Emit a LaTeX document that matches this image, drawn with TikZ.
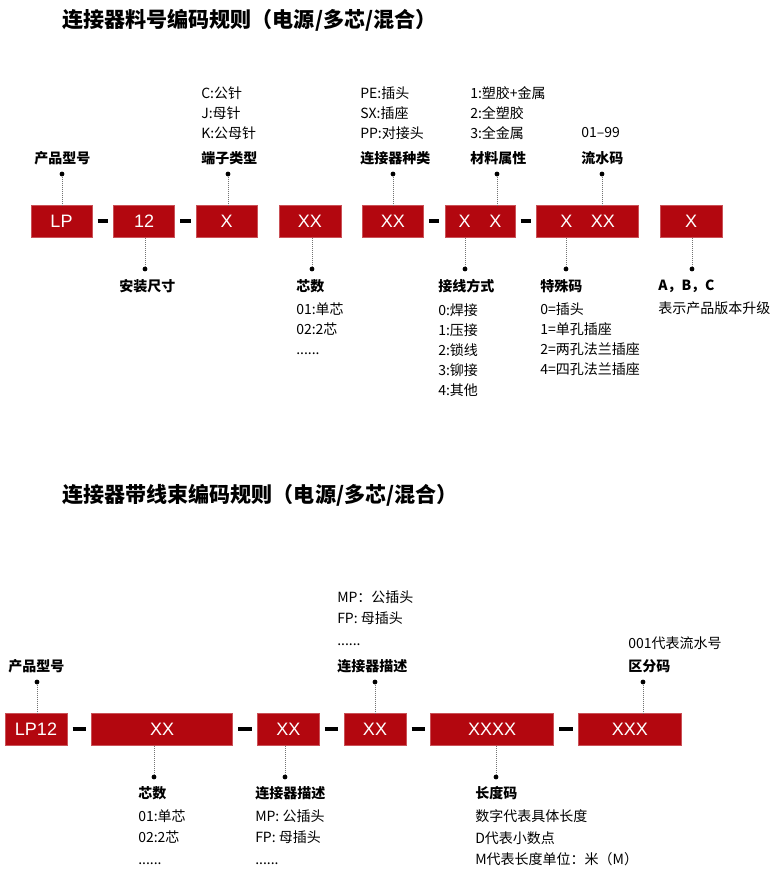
\documentclass[tikz,border=0pt]{standalone}
\usepackage{fontspec}
\setmainfont{Noto Sans CJK SC}
\newfontfamily\boxfont{Liberation Sans}
\usepackage{tikz}
\usetikzlibrary{positioning, calc}
\definecolor{CodeRed}{HTML}{B3070F}

\tikzset{
  codebox/.style={fill=CodeRed, draw=CodeRed!70!white, line width=0.4pt, text=white,
    minimum height=24pt, inner sep=0pt, font=\boxfont\fontsize{13.5}{15}\selectfont},
  hyphen/.style={line width=2.3pt, shorten <=4pt, shorten >=4pt},
  pin/.style={circle, fill=black, inner sep=0pt, minimum size=3.6pt},
  lead/.style={densely dotted, black!55, line width=0.5pt},
  title/.style={anchor=west, inner sep=0pt, font=\fontsize{15.8}{18}\selectfont\bfseries},
  head/.style={anchor=west, inner sep=0pt, font=\fontsize{10.5}{12}\selectfont\bfseries},
  note/.style={anchor=west, inner sep=0pt, align=left, font=\fontsize{10.5}{15}\selectfont},
  notewide/.style={note, font=\fontsize{10.5}{16.2}\selectfont}
}

\begin{document}
\begin{tikzpicture}[x=0.75pt, y=-0.75pt]
\useasboundingbox (0,0) rectangle (780,872);

% --- Part 1: connector part number ---
\node[title] (title1) at (62,20) {连接器料号编码规则（电源/多芯/混合）};

% code boxes
\node[codebox, minimum width=45.75pt] (lp) at (61.5,221) {LP};
\node[codebox, minimum width=45.75pt, right=15.8pt of lp] (size) {12};
\node[codebox, minimum width=45.75pt, right=15.8pt of size] (term) {X};
\node[codebox, minimum width=46.5pt, right=15.8pt of term] (cores) {XX};
\node[codebox, minimum width=45.75pt, right=15.8pt of cores] (kind) {XX};
\node[codebox, minimum width=52.5pt, right=15.8pt of kind] (mat) {X\hspace{14pt}X};
\node[codebox, minimum width=76.5pt, right=15.8pt of mat] (serial) {X\hspace{14pt}XX};
\node[codebox, minimum width=46.5pt, right=15.8pt of serial] (ver) {X};

\draw[hyphen] (lp) -- (size);
\draw[hyphen] (size) -- (term);
\draw[hyphen] (kind) -- (mat);
\draw[hyphen] (mat) -- (serial);

% pins above
\node[pin] (pLp) at (62,174) {};
\node[pin] (pTerm) at (228,174) {};
\node[pin] (pKind) at (393,174) {};
\node[pin] (pMat) at (497,174) {};
\node[pin] (pSerial) at (602,174) {};
\draw[lead] (pLp) -- (pLp |- lp.north);
\draw[lead] (pTerm) -- (pTerm |- term.north);
\draw[lead] (pKind) -- (pKind |- kind.north);
\draw[lead] (pMat) -- (pMat |- mat.north);
\draw[lead] (pSerial) -- (pSerial |- serial.north);

% pins below
\node[pin] (pSize) at (145,269) {};
\node[pin] (pCores) at (312,269) {};
\node[pin] (pWire) at (465,269) {};
\node[pin] (pSpecial) at (566,269) {};
\node[pin] (pVer) at (692,269) {};
\draw[lead] (pSize) -- (pSize |- size.south);
\draw[lead] (pCores) -- (pCores |- cores.south);
\draw[lead] (pWire) -- (pWire |- mat.south);
\draw[lead] (pSpecial) -- (pSpecial |- serial.south);
\draw[lead] (pVer) -- (pVer |- ver.south);

% labels above
\node[head] (hLp) at (34,158) {产品型号};
\node[head] (hTerm) at (201,158) {端子类型};
\node[note] (nTerm) at (201,113) {C:公针\\J:母针\\K:公母针};
\node[head] (hKind) at (360,158) {连接器种类};
\node[note] (nKind) at (360,113) {PE:插头\\SX:插座\\PP:对接头};
\node[head] (hMat) at (470,158) {材料属性};
\node[note] (nMat) at (470,113) {1:塑胶+金属\\2:全塑胶\\3:全金属};
\node[head] (hSerial) at (581,158) {流水码};
\node[note] (nSerial) at (581,133) {01–99};

% labels below
\node[head] (hSize) at (119,286) {安装尺寸};
\node[head] (hCores) at (296,286) {芯数};
\node[note] (nCores) at (296,329) {01:单芯\\02:2芯\\......};
\node[head] (hWire) at (438,286) {接线方式};
\node[note] (nWire) at (438,350) {0:焊接\\1:压接\\2:锁线\\3:铆接\\4:其他};
\node[head] (hSpecial) at (540,286) {特殊码};
\node[note] (nSpecial) at (540,339) {0=插头\\1=单孔插座\\2=两孔法兰插座\\4=四孔法兰插座};
\node[head] (hVer) at (658,286) {A，B，C};
\node[note] (nVer) at (658,308) {表示产品版本升级};

% --- Part 2: connector with harness ---
\node[title] (title2) at (62,495) {连接器带线束编码规则（电源/多芯/混合）};

% code boxes
\node[codebox, minimum width=46.5pt] (lpx) at (36,729) {LP12};
\node[codebox, minimum width=105.75pt, right=18.1pt of lpx] (coreb) {XX};
\node[codebox, minimum width=46.5pt, right=18.1pt of coreb] (conna) {XX};
\node[codebox, minimum width=46.5pt, right=18.1pt of conna] (connb) {XX};
\node[codebox, minimum width=92.25pt, right=18.1pt of connb] (length) {XXXX};
\node[codebox, minimum width=77.25pt, right=18.1pt of length] (sort) {XXX};

\draw[hyphen] (lpx) -- (coreb);
\draw[hyphen] (coreb) -- (conna);
\draw[hyphen] (conna) -- (connb);
\draw[hyphen] (connb) -- (length);
\draw[hyphen] (length) -- (sort);

% pins
\node[pin] (pLpx) at (37,682) {};
\node[pin] (pConnb) at (375,682) {};
\node[pin] (pSort) at (643,682) {};
\node[pin] (pCoreb) at (154,777) {};
\node[pin] (pConna) at (285,777) {};
\node[pin] (pLength) at (496,777) {};
\draw[lead] (pLpx) -- (pLpx |- lpx.north);
\draw[lead] (pConnb) -- (pConnb |- connb.north);
\draw[lead] (pSort) -- (pSort |- sort.north);
\draw[lead] (pCoreb) -- (pCoreb |- coreb.south);
\draw[lead] (pConna) -- (pConna |- conna.south);
\draw[lead] (pLength) -- (pLength |- length.south);

% labels
\node[head] (hLpx) at (8,666) {产品型号};
\node[head] (hConnb) at (337,666) {连接器描述};
\node[notewide] (nConnb) at (337,618) {MP：公插头\\FP: 母插头\\......};
\node[head] (hSort) at (628,666) {区分码};
\node[note] (nSort) at (628,643) {001代表流水号};
\node[head] (hCoreb) at (138,793) {芯数};
\node[notewide] (nCoreb) at (138,837) {01:单芯\\02:2芯\\......};
\node[head] (hConna) at (255,793) {连接器描述};
\node[notewide] (nConna) at (255,837) {MP: 公插头\\FP: 母插头\\......};
\node[head] (hLength) at (475,793) {长度码};
\node[notewide] (nLength) at (475,838) {数字代表具体长度\\D代表小数点\\M代表长度单位：米（M）};
\end{tikzpicture}
\end{document}
